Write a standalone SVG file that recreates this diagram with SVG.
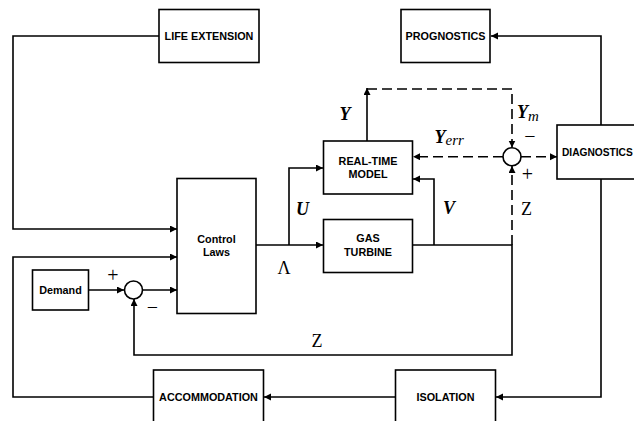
<svg xmlns="http://www.w3.org/2000/svg" width="634" height="421" viewBox="0 0 634 421">
<style>
.box{fill:#fff;stroke:#000;stroke-width:1.6}
.ln{fill:none;stroke:#000;stroke-width:1.6}
.ds{fill:none;stroke:#000;stroke-width:1.6;stroke-dasharray:10 5}
.lb{font-family:"Liberation Sans",Arial,sans-serif;font-weight:bold;font-size:10.8px;text-anchor:middle;fill:#000}
.mi{font-family:"Liberation Serif","Times New Roman",serif;font-style:italic;font-weight:bold;font-size:18px;fill:#000}
.mr{font-family:"Liberation Serif","Times New Roman",serif;font-size:18px;fill:#000}
.sg{font-family:"Liberation Serif","Times New Roman",serif;font-size:20px;fill:#000;text-anchor:middle}
</style>
<defs>
<marker id="ar" markerUnits="userSpaceOnUse" markerWidth="8" markerHeight="8" refX="7" refY="3.5" orient="auto">
<path d="M0,0 L7,3.5 L0,7 z" fill="#000"/>
</marker>
</defs>
<g id="connectors">
<polyline class="ln" points="601,125 601,36 491,36" marker-end="url(#ar)"/>
<polyline class="ln" points="159,36 13,36 13,229 177,229" marker-end="url(#ar)"/>
<polyline class="ln" points="601,179 601,397 496,397" marker-end="url(#ar)"/>
<polyline class="ln" points="395,397 264,397" marker-end="url(#ar)"/>
<polyline class="ln" points="153,397 13,397 13,257 177,257" marker-end="url(#ar)"/>
<polyline class="ln" points="88,290 124,290" marker-end="url(#ar)"/>
<polyline class="ln" points="143,290 177,290" marker-end="url(#ar)"/>
<polyline class="ln" points="256,245 323,245" marker-end="url(#ar)"/>
<polyline class="ln" points="289,245 289,168 323,168" marker-end="url(#ar)"/>
<polyline class="ln" points="413,245 512,245 512,355 134,355 134,299" marker-end="url(#ar)"/>
<polyline class="ln" points="434,245 434,179 413,179" marker-end="url(#ar)"/>
<polyline class="ln" points="367,141 367,88" marker-end="url(#ar)"/>
<polyline class="ds" points="367,89 512,89 512,147.5" marker-end="url(#ar)"/>
<polyline class="ds" points="512,245 512,166" marker-end="url(#ar)"/>
<polyline class="ds" points="503,156.7 413,156.7" marker-end="url(#ar)"/>
<polyline class="ds" points="521,156.7 557,156.7" marker-end="url(#ar)"/>
</g>
<g id="life-extension"><rect class="box" x="159" y="9.5" width="100" height="53"/><text class="lb" x="209" y="40">LIFE EXTENSION</text></g>
<g id="prognostics"><rect class="box" x="401" y="9.5" width="89" height="53"/><text class="lb" x="445.5" y="40">PROGNOSTICS</text></g>
<g id="diagnostics"><rect class="box" x="557" y="125" width="100" height="54"/><text class="lb" x="562" y="156" style="text-anchor:start;font-size:10.2px">DIAGNOSTICS</text></g>
<g id="real-time-model"><rect class="box" x="323.5" y="141" width="89" height="53"/><text class="lb" x="368" y="164.5">REAL-TIME</text><text class="lb" x="368" y="178">MODEL</text></g>
<g id="gas-turbine"><rect class="box" x="323.5" y="219.5" width="89" height="53"/><text class="lb" x="368" y="242">GAS</text><text class="lb" x="368" y="255.5">TURBINE</text></g>
<g id="control-laws"><rect class="box" x="177" y="178.5" width="79" height="135"/><text class="lb" x="216.5" y="243">Control</text><text class="lb" x="216.5" y="256">Laws</text></g>
<g id="demand"><rect class="box" x="32.5" y="270" width="56" height="40"/><text class="lb" x="60.5" y="294">Demand</text></g>
<g id="accommodation"><rect class="box" x="153.5" y="370" width="110" height="60"/><text class="lb" x="208.5" y="400.5">ACCOMMODATION</text></g>
<g id="isolation"><rect class="box" x="395.5" y="370" width="100" height="60"/><text class="lb" x="445.5" y="400.5">ISOLATION</text></g>
<g id="sum1"><circle class="box" cx="133.5" cy="290" r="9"/><text class="sg" x="113" y="282">+</text><text class="sg" x="152.5" y="314">−</text></g>
<g id="sum2"><circle class="box" cx="512" cy="156.7" r="9"/><text class="sg" x="530" y="143">−</text><text class="sg" x="527.5" y="181">+</text></g>
<g id="labels">
<text class="mi" x="339.5" y="120">Y</text>
<text class="mi" x="296" y="215">U</text>
<text class="mi" x="443" y="214">V</text>
<text class="mi" x="434.5" y="143">Y<tspan style="font-weight:normal;font-size:15px" dy="2">err</tspan></text>
<text class="mi" x="517" y="118">Y<tspan style="font-weight:normal;font-size:15px" dy="3">m</tspan></text>
<text class="mr" x="521" y="215">Z</text>
<text class="mr" x="311.5" y="346.5">Z</text>
<text class="mr" x="277.5" y="273.5">Λ</text>
</g>
</svg>
